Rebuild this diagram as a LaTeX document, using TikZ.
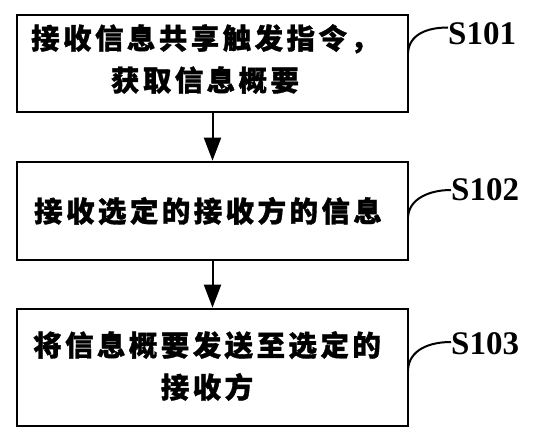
\documentclass[tikz,border=0pt]{standalone}
\usepackage{fontspec}
\setmainfont{Liberation Serif}
\newfontfamily\cjk[LetterSpace=12,FakeBold=1.2]{Noto Sans CJK SC}
\usetikzlibrary{arrows.meta}
\tikzset{
  stepbox/.style={draw, line width=2.6pt, minimum width=391pt, inner sep=0pt},
  steptext/.style={font=\cjk\bfseries\fontsize{28.5}{42}\selectfont, align=center, inner sep=0pt},
  slabel/.style={font=\bfseries\fontsize{33}{33}\selectfont, inner sep=0pt, anchor=west},
  flow/.style={line width=2pt, -{Triangle[width=17pt,length=23pt]}},
  lead/.style={line width=2pt}
}
\begin{document}
\begin{tikzpicture}[x=1pt,y=-1pt]
\useasboundingbox (0,0) rectangle (536,441);
\fill[white] (0,0) rectangle (536,441);
% boxes
\node[stepbox, minimum height=97pt] (b1) at (212.5,63.5) {};
\node[stepbox, minimum height=98pt] (b2) at (212.5,211) {};
\node[stepbox, minimum height=117pt] (b3) at (212.5,367.5) {};
% texts
\node[steptext] (t1) at (205,59) {接收信息共享触发指令，\\获取信息概要};
\node[steptext] (t2) at (208,211) {接收选定的接收方的信息};
\node[steptext] (t3) at (207,366) {将信息概要发送至选定的\\接收方};
% arrows
\draw[flow] (b1.south) -- (b2.north);
\draw[flow] (b2.south) -- (b3.north);
% labels
\node[slabel] (s1) at (448,33.5) {S101};
\node[slabel] (s2) at (451,190) {S102};
\node[slabel] (s3) at (451,344) {S103};
\coordinate (c1) at (408,53);
\coordinate (c2) at (408,217);
\coordinate (c3) at (408,370);
\draw[lead] (c1) .. controls +(1,-18) and +(-22,0) .. ([yshift=6pt]s1.west);
\draw[lead] (c2) .. controls +(1,-18) and +(-22,0) .. (s2.west);
\draw[lead] (c3) .. controls +(1,-20) and +(-22,0) .. ([yshift=2pt]s3.west);
\end{tikzpicture}
\end{document}
